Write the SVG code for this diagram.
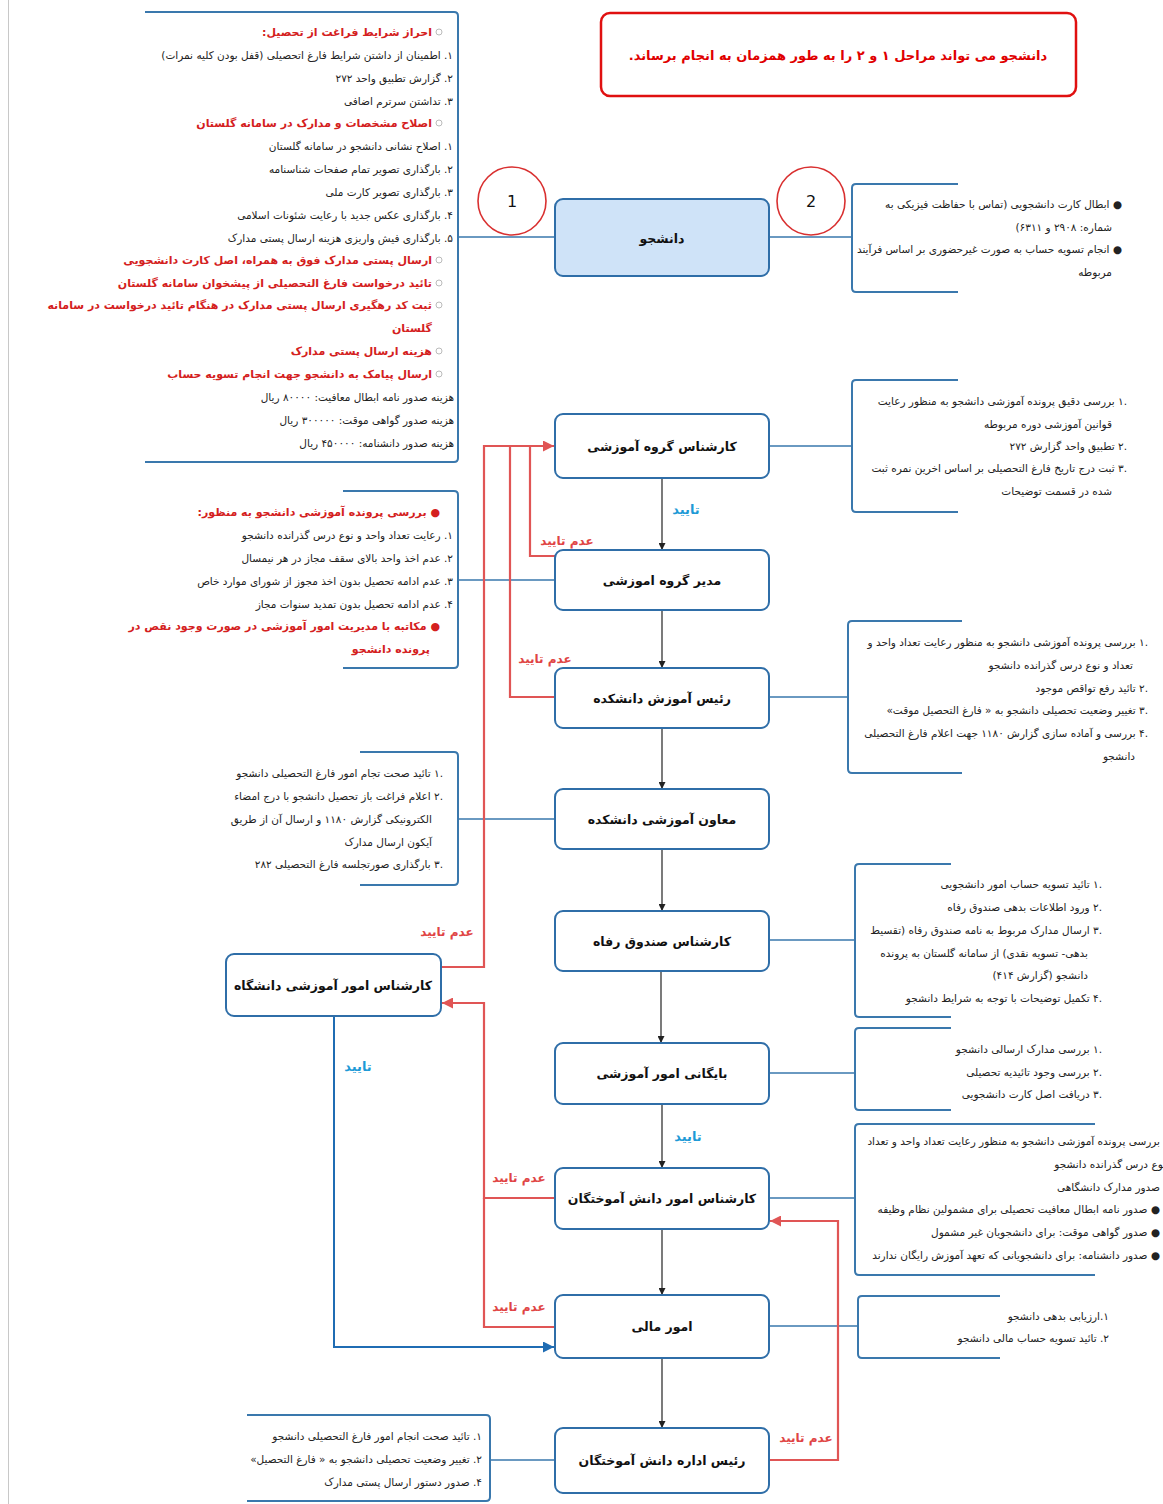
<svg xmlns="http://www.w3.org/2000/svg" width="1163" height="1504" viewBox="0 0 1163 1504">
<defs>
<style>
.node{fill:#fff;stroke:#2f6ea8;stroke-width:2}
.nl{font-family:"DejaVu Sans",sans-serif;font-weight:bold;font-size:12.5px;fill:#111;text-anchor:middle;direction:rtl}
.br{fill:none;stroke:#3a78ad;stroke-width:2}
.sc{fill:none;stroke:#3a78ad;stroke-width:1.6}
.t{font-family:"DejaVu Sans",sans-serif;font-size:10.5px;fill:#222;direction:rtl;text-anchor:start}
.h{font-family:"DejaVu Sans",sans-serif;font-size:11px;font-weight:bold;fill:#d42020;direction:rtl;text-anchor:start}
.red{fill:none;stroke:#e05555;stroke-width:2.2}
.blue{fill:none;stroke:#1f6cb3;stroke-width:2}
.blk{fill:none;stroke:#222;stroke-width:1.2}
.rl{font-family:"DejaVu Sans",sans-serif;font-size:12px;font-weight:bold;fill:#e04444;text-anchor:middle;direction:rtl}
.bl{font-family:"DejaVu Sans",sans-serif;font-size:13px;font-weight:bold;fill:#1e9ad6;text-anchor:middle;direction:rtl}
.dot{fill:none;stroke:#bbb;stroke-width:1}
</style>
<marker id="ak" viewBox="0 0 10 10" refX="10" refY="5" markerWidth="7" markerHeight="7" orient="auto" markerUnits="userSpaceOnUse"><path d="M0,0 L10,5 L0,10 z" fill="#222"/></marker>
<marker id="ar" viewBox="0 0 10 10" refX="10" refY="5" markerWidth="11" markerHeight="11" orient="auto" markerUnits="userSpaceOnUse"><path d="M0,0 L10,5 L0,10 z" fill="#e05555"/></marker>
<marker id="ab" viewBox="0 0 10 10" refX="10" refY="5" markerWidth="11" markerHeight="11" orient="auto" markerUnits="userSpaceOnUse"><path d="M0,0 L10,5 L0,10 z" fill="#1f6cb3"/></marker>
</defs>
<rect width="1163" height="1504" fill="#fff"/>
<line x1="8.5" y1="0" x2="8.5" y2="1504" stroke="#c8c8c8" stroke-width="1"/>

<!-- note box -->
<g id="note">
<rect x="601" y="13" width="475" height="83" rx="9" fill="#fff" stroke="#e01010" stroke-width="2.5"/>
<text x="838" y="60" style="font-family:'DejaVu Sans',sans-serif;font-size:13px;font-weight:bold;fill:#e00000;text-anchor:middle;direction:rtl">دانشجو می تواند مراحل ۱ و ۲ را به طور همزمان به انجام برساند.</text>
</g>

<!-- connectors -->
<g id="connectors">
<path class="sc" d="M458,237 H555 M769,237 H852 M769,446 H852 M458,580 H555 M769,697 H848 M458,819 H555 M769,940 H855 M769,1073 H855 M769,1198 H855 M769,1326 H858 M490,1460 H555"/>
<path class="blk" d="M662,478 V550" marker-end="url(#ak)"/>
<path class="blk" d="M662,610 V668" marker-end="url(#ak)"/>
<path class="blk" d="M662,728 V789" marker-end="url(#ak)"/>
<path class="blk" d="M662,849 V911" marker-end="url(#ak)"/>
<path class="blk" d="M661,971 V1043" marker-end="url(#ak)"/>
<path class="blk" d="M662,1104 V1168" marker-end="url(#ak)"/>
<path class="blk" d="M662,1229 V1295" marker-end="url(#ak)"/>
<path class="blk" d="M662,1358 V1428" marker-end="url(#ak)"/>
<path class="red" d="M555,556 H530 V446"/>
<path class="red" d="M555,697 H510 V446"/>
<path class="red" d="M441,967 H484 V446 H554" marker-end="url(#ar)"/>
<path class="red" d="M555,1198 H484 V1003 H442" marker-end="url(#ar)"/>
<path class="red" d="M555,1327 H484 V1198"/>
<path class="red" d="M769,1460 H838 V1221 H770" marker-end="url(#ar)"/>
<path class="blue" d="M334,1016 V1347 H554" marker-end="url(#ab)"/>
<text class="bl" x="686" y="514">تایید</text>
<text class="rl" x="567" y="545">عدم تایید</text>
<text class="rl" x="545" y="663">عدم تایید</text>
<text class="rl" x="447" y="936">عدم تایید</text>
<text class="bl" x="358" y="1071">تایید</text>
<text class="bl" x="688" y="1141">تایید</text>
<text class="rl" x="519" y="1182">عدم تایید</text>
<text class="rl" x="519" y="1311">عدم تایید</text>
<text class="rl" x="806" y="1442">عدم تایید</text>
</g>

<!-- circles -->
<g id="step1"><circle cx="512" cy="201" r="34" fill="#fff" stroke="#d93030" stroke-width="1.6"/><text x="512" y="207" style="font-family:'DejaVu Sans',sans-serif;font-size:16px;text-anchor:middle;fill:#111">1</text></g>
<g id="step2"><circle cx="811" cy="201" r="34" fill="#fff" stroke="#d93030" stroke-width="1.6"/><text x="811" y="207" style="font-family:'DejaVu Sans',sans-serif;font-size:16px;text-anchor:middle;fill:#111">2</text></g>

<!-- main nodes -->
<g id="n1"><rect class="node" x="555" y="199" width="214" height="77" rx="8" style="fill:#cfe3f8"/><text class="nl" x="662" y="243">دانشجو</text></g>
<g id="n2"><rect class="node" x="555" y="414" width="214" height="64" rx="8"/><text class="nl" x="662" y="451">کارشناس گروه آموزشی</text></g>
<g id="n3"><rect class="node" x="555" y="550" width="214" height="60" rx="8"/><text class="nl" x="662" y="585">مدیر گروه اموزشی</text></g>
<g id="n4"><rect class="node" x="555" y="668" width="214" height="60" rx="8"/><text class="nl" x="662" y="703">رئیس آموزش دانشکده</text></g>
<g id="n5"><rect class="node" x="555" y="789" width="214" height="60" rx="8"/><text class="nl" x="662" y="824">معاون آموزشی دانشکده</text></g>
<g id="n6"><rect class="node" x="555" y="911" width="214" height="60" rx="8"/><text class="nl" x="662" y="946">کارشناس صندوق رفاه</text></g>
<g id="n7"><rect class="node" x="555" y="1043" width="214" height="61" rx="8"/><text class="nl" x="662" y="1078">بایگانی امور آموزشی</text></g>
<g id="n8"><rect class="node" x="555" y="1168" width="214" height="61" rx="8"/><text class="nl" x="662" y="1203">کارشناس امور دانش آموختگان</text></g>
<g id="n9"><rect class="node" x="555" y="1295" width="214" height="63" rx="8"/><text class="nl" x="662" y="1331">امور مالی</text></g>
<g id="n10"><rect class="node" x="555" y="1428" width="214" height="65" rx="8"/><text class="nl" x="662" y="1465">رئیس اداره دانش آموختگان</text></g>
<g id="n11"><rect class="node" x="226" y="954" width="215" height="62" rx="8"/><text class="nl" x="333" y="990">کارشناس امور آموزشی دانشگاه</text></g>

<!-- side boxes -->
<g id="box-student-left">
<path class="br" d="M145,12 H454 Q458,12 458,16 V458 Q458,462 454,462 H145"/>
<circle class="dot" cx="439" cy="32" r="3"/>
<text class="h" x="432" y="36">احراز شرایط فراغت از تحصیل:</text>
<text class="t" x="453" y="59">۱. اطمینان از داشتن شرایط فارغ اتحصیلی (قفل بودن کلیه نمرات)</text>
<text class="t" x="453" y="82">۲. گزارش تطبیق واحد ۲۷۲</text>
<text class="t" x="453" y="105">۳. تداشتن سرترم اضافی</text>
<circle class="dot" cx="439" cy="123" r="3"/>
<text class="h" x="432" y="127">اصلاح مشخصات و مدارک در سامانه گلستان</text>
<text class="t" x="453" y="150">۱. اصلاح نشانی دانشجو در سامانه گلستان</text>
<text class="t" x="453" y="173">۲. بارگذاری تصویر تمام صفحات شناسنامه</text>
<text class="t" x="453" y="196">۳. بارگذاری تصویر کارت ملی</text>
<text class="t" x="453" y="219">۴. بارگذاری عکس جدید با رعایت شئونات اسلامی</text>
<text class="t" x="453" y="242">۵. بارگذاری فیش واریزی هزینه ارسال پستی مدارک</text>
<circle class="dot" cx="439" cy="260" r="3"/>
<text class="h" x="432" y="264">ارسال پستی مدارک فوق به همراه، اصل کارت دانشجویی</text>
<circle class="dot" cx="439" cy="283" r="3"/>
<text class="h" x="432" y="287">تائید درخواست فارغ التحصیلی از پیشخوان سامانه گلستان</text>
<circle class="dot" cx="439" cy="305" r="3"/>
<text class="h" x="432" y="309">ثبت کد رهگیری ارسال پستی مدارک در هنگام تائید درخواست در سامانه</text>
<text class="h" x="432" y="332">گلستان</text>
<circle class="dot" cx="439" cy="351" r="3"/>
<text class="h" x="432" y="355">هزینه ارسال پستی مدارک</text>
<circle class="dot" cx="439" cy="374" r="3"/>
<text class="h" x="432" y="378">ارسال پیامک به دانشجو جهت انجام تسویه حساب</text>
<text class="t" x="454" y="401">هزینه صدور نامه ابطال معافیت: ۸۰۰۰۰ ریال</text>
<text class="t" x="454" y="424">هزینه صدور گواهی موقت: ۳۰۰۰۰۰ ریال</text>
<text class="t" x="454" y="447">هزینه صدور دانشنامه: ۴۵۰۰۰۰ ریال</text>
</g>

<g id="box-student-right">
<path class="br" d="M958,184 H856 Q852,184 852,188 V288 Q852,292 856,292 H958"/>
<text class="t" x="1122" y="208">● ابطال کارت دانشجویی (تماس با حفاظت فیزیکی به</text>
<text class="t" x="1112" y="231">شماره: ۲۹۰۸ و ۶۳۱۱)</text>
<text class="t" x="1122" y="253">● انجام تسویه حساب به صورت غیرحضوری بر اساس فرآیند</text>
<text class="t" x="1112" y="276">مربوطه</text>
</g>

<g id="box-group-expert">
<path class="br" d="M958,380 H856 Q852,380 852,384 V508 Q852,512 856,512 H958"/>
<text class="t" x="1127" y="405">.۱ بررسی دقیق پرونده آموزشی دانشجو به منظور رعایت</text>
<text class="t" x="1112" y="428">قوانین آموزشی دوره مربوطه</text>
<text class="t" x="1127" y="450">.۲ تطبیق واحد گزارش ۲۷۲</text>
<text class="t" x="1127" y="472">.۳ ثبت درج تاریخ فارغ التحصیلی بر اساس اخرین نمره ثبت</text>
<text class="t" x="1112" y="495">شده در قسمت توضیحات</text>
</g>

<g id="box-group-head">
<path class="br" d="M343,491 H454 Q458,491 458,495 V664 Q458,668 454,668 H343"/>
<text class="h" x="440" y="516">● بررسی پرونده آموزشی دانشجو  به منظور:</text>
<text class="t" x="453" y="539">۱. رعایت تعداد واحد و نوع درس گذرانده دانشجو</text>
<text class="t" x="453" y="562">۲. عدم اخذ واحد بالای سقف مجاز در هر نیمسال</text>
<text class="t" x="453" y="585">۳. عدم ادامه تحصیل بدون اخذ مجوز از شورای موارد خاص</text>
<text class="t" x="453" y="608">۴. عدم ادامه تحصیل بدون تمدید سنوات مجاز</text>
<text class="h" x="440" y="630">● مکاتبه با مدیریت امور آموزشی در صورت وجود نقص در</text>
<text class="h" x="430" y="653">پرونده دانشجو</text>
</g>

<g id="box-faculty-head">
<path class="br" d="M962,621 H852 Q848,621 848,625 V769 Q848,773 852,773 H962"/>
<text class="t" x="1148" y="646">.۱ بررسی پرونده آموزشی دانشجو  به منظور رعایت تعداد واحد و</text>
<text class="t" x="1133" y="669">تعداد و نوع  درس گذرانده دانشجو</text>
<text class="t" x="1148" y="692">.۲ تائید رفع تواقص موجود</text>
<text class="t" x="1148" y="714">.۳ تغییر وضعیت تحصیلی دانشجو به « فارغ التحصیل موقت»</text>
<text class="t" x="1148" y="737">.۴ بررسی و آماده سازی گزارش ۱۱۸۰ جهت اعلام فارغ التحصیلی</text>
<text class="t" x="1135" y="760">دانشجو</text>
</g>

<g id="box-deputy">
<path class="br" d="M360,752 H454 Q458,752 458,756 V881 Q458,885 454,885 H360"/>
<text class="t" x="443" y="777">.۱ تائید صحت تجام امور فارغ التحصیلی دانشجو</text>
<text class="t" x="443" y="800">.۲ اعلام فراغت باز تحصیل دانشجو با درج امضاء</text>
<text class="t" x="432" y="823">الکترونیکی گزارش ۱۱۸۰ و ارسال آن از طریق</text>
<text class="t" x="432" y="846">آیکون ارسال مدارک</text>
<text class="t" x="443" y="868">.۳ بارگذاری صورتجلسه فارغ التحصیلی ۲۸۲</text>
</g>

<g id="box-welfare">
<path class="br" d="M951,864 H859 Q855,864 855,868 V1013 Q855,1017 859,1017 H951"/>
<text class="t" x="1102" y="888">.۱ تائید تسویه حساب امور دانشجویی</text>
<text class="t" x="1102" y="911">.۲ ورود اطلاعات بدهی صندوق رفاه</text>
<text class="t" x="1102" y="934">.۳ ارسال مدارک مربوط به نامه صندوق رفاه (تقسیط</text>
<text class="t" x="1088" y="957">بدهی- تسویه نقدی) از سامانه گلستان به پرونده</text>
<text class="t" x="1088" y="979">دانشجو (گزارش ۴۱۴)</text>
<text class="t" x="1102" y="1002">.۴ تکمیل توضیحات با توجه به شرایط دانشجو</text>
</g>

<g id="box-archive">
<path class="br" d="M951,1028 H859 Q855,1028 855,1032 V1106 Q855,1110 859,1110 H951"/>
<text class="t" x="1102" y="1053">.۱ بررسی مدارک ارسالی دانشجو</text>
<text class="t" x="1102" y="1076">.۲ بررسی وجود تائیدیه تحصیلی</text>
<text class="t" x="1102" y="1098">.۳ دریافت اصل کارت دانشجویی</text>
</g>

<g id="box-alumni-expert">
<path class="br" d="M1095,1124 H859 Q855,1124 855,1128 V1271 Q855,1275 859,1275 H1095"/>
<text class="t" x="1160" y="1145">بررسی پرونده آموزشی دانشجو  به منظور رعایت تعداد واحد و تعداد</text>
<text class="t" x="1166" y="1168">نوع  درس گذرانده دانشجو</text>
<text class="t" x="1160" y="1191">صدور  مدارک دانشگاهی</text>
<text class="t" x="1160" y="1213">● صدور نامه ابطال معافیت تحصیلی برای مشمولین نظام وظیفه</text>
<text class="t" x="1160" y="1236">● صدور گواهی موقت: برای دانشجویان غیر مشمول</text>
<text class="t" x="1160" y="1259">● صدور دانشنامه: برای دانشجویانی که تعهد آموزش رایگان ندارند</text>
</g>

<g id="box-finance">
<path class="br" d="M1000,1296 H862 Q858,1296 858,1300 V1354 Q858,1358 862,1358 H1000"/>
<text class="t" x="1109" y="1320">۱.ارزیابی بدهی دانشجو</text>
<text class="t" x="1109" y="1342">۲. تائید تسویه حساب مالی دانشجو</text>
</g>

<g id="box-alumni-head">
<path class="br" d="M247,1415 H486 Q490,1415 490,1419 V1497 Q490,1501 486,1501 H247"/>
<text class="t" x="482" y="1440">۱. تائید صحت انجام امور فارغ التحصیلی دانشجو</text>
<text class="t" x="482" y="1463">۲. تغییر وضعیت تحصیلی دانشجو به « فارغ التحصیل»</text>
<text class="t" x="482" y="1486">۴. صدور دستور ارسال پستی مدارک</text>
</g>
</svg>
